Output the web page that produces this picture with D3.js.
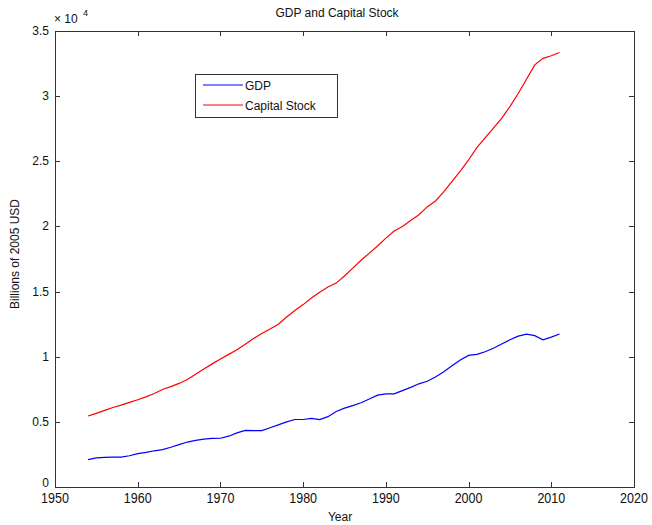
<!DOCTYPE html>
<html>
<head>
<meta charset="utf-8">
<script src="https://cdn.jsdelivr.net/npm/d3@7"></script>
<style>
  body { margin: 0; background: #fff; }
  svg { display: block; font-family: "Liberation Sans", Arial, sans-serif; }
</style>
</head>
<body>
<svg id="chart" width="652" height="525"></svg>
<script>
// Annual series, billions of 2005 USD
const years = d3.range(1954, 2012);
const gdp = [
  2100, 2230, 2280, 2290, 2290, 2400, 2560, 2660, 2780, 2870,
  3050, 3250, 3450, 3580, 3680, 3730, 3740, 3900, 4150, 4350,
  4330, 4330, 4550, 4770, 5000, 5180, 5180, 5270, 5180, 5400,
  5800, 6050, 6250, 6470, 6750, 7050, 7150, 7150, 7400, 7650,
  7920, 8120, 8450, 8850, 9300, 9750, 10100, 10180, 10380, 10650,
  10980, 11300, 11580, 11740, 11620, 11300, 11500, 11740
];
const capitalStock = [
  5450, 5650, 5880, 6100, 6280, 6500, 6700, 6920, 7180, 7480,
  7700, 7950, 8250, 8650, 9050, 9450, 9820, 10180, 10540, 10950,
  11400, 11780, 12120, 12500, 13050, 13550, 14000, 14500, 14950, 15350,
  15650, 16200, 16800, 17400, 17950, 18500, 19100, 19650, 20000, 20450,
  20900, 21500, 21950, 22650, 23450, 24250, 25100, 26050, 26800, 27550,
  28300, 29200, 30200, 31300, 32400, 32900, 33100, 33350
];
const xTicks = [1950, 1960, 1970, 1980, 1990, 2000, 2010, 2020];
const yTicks = [0, 5000, 10000, 15000, 20000, 25000, 30000, 35000];
const seriesNames = ["GDP", "Capital Stock"];
const seriesColors = ["#0000ff", "#ff0000"];

(function draw() {
  const svg = d3.select("#chart");
  const plotL = 55, plotR = 634, plotT = 31, plotB = 487;
  const axisColor = "#333";

  const x = d3.scaleLinear().domain([1950, 2020]).range([plotL, plotR]);
  const y = d3.scaleLinear().domain([0, 35000]).range([plotB, plotT]);

  // Axes box
  svg.append("rect")
    .attr("x", plotL + 0.5).attr("y", plotT + 0.5)
    .attr("width", plotR - plotL).attr("height", plotB - plotT)
    .attr("fill", "none").attr("stroke", axisColor).attr("stroke-width", 1);

  const tickLen = 5;
  // X ticks (inward, bottom and top)
  const gx = svg.append("g");
  xTicks.forEach(t => {
    const px = Math.round(x(t)) + 0.5;
    gx.append("line").attr("x1", px).attr("x2", px).attr("y1", plotB).attr("y2", plotB - tickLen)
      .attr("stroke", axisColor);
    gx.append("line").attr("x1", px).attr("x2", px).attr("y1", plotT).attr("y2", plotT + tickLen)
      .attr("stroke", axisColor);
    gx.append("text")
      .attr("transform", `translate(${x(t)},${plotB + 16}) scale(1,1.15)`)
      .attr("text-anchor", "middle")
      .attr("font-size", 12.5)
      .attr("fill", "#111")
      .text(t);
  });

  // Y ticks (inward, left and right)
  const gy = svg.append("g");
  yTicks.forEach(t => {
    const py = Math.round(y(t)) + 0.5;
    gy.append("line").attr("x1", plotL).attr("x2", plotL + tickLen).attr("y1", py).attr("y2", py)
      .attr("stroke", axisColor);
    gy.append("line").attr("x1", plotR).attr("x2", plotR - tickLen).attr("y1", py).attr("y2", py)
      .attr("stroke", axisColor);
    gy.append("text")
      .attr("x", plotL - 6).attr("y", y(t) + (t === 0 ? 0 : 4))
      .attr("text-anchor", "end")
      .attr("font-size", 12)
      .attr("fill", "#111")
      .text(d3.format("~g")(t / 10000));
  });

  // Exponent label
  svg.append("text").attr("x", plotL - 1).attr("y", 23).attr("font-size", 12).attr("fill", "#111")
    .text("\u00d7 10");
  svg.append("text").attr("x", plotL + 28).attr("y", 16).attr("font-size", 9).attr("fill", "#111").text("4");

  // Lines
  const line = d3.line().x((d, i) => x(years[i])).y(d => y(d));
  [gdp, capitalStock].forEach((series, k) => {
    svg.append("path")
      .datum(series)
      .attr("d", line)
      .attr("fill", "none")
      .attr("stroke", seriesColors[k])
      .attr("stroke-width", 1.2);
  });

  // Title and axis labels
  svg.append("text")
    .attr("x", 337).attr("y", 17)
    .attr("text-anchor", "middle")
    .attr("font-size", 12)
    .attr("fill", "#111")
    .text("GDP and Capital Stock");

  svg.append("text")
    .attr("x", 340).attr("y", 521)
    .attr("text-anchor", "middle")
    .attr("font-size", 12)
    .attr("fill", "#111")
    .text("Year");

  svg.append("text")
    .attr("transform", "translate(19,254) rotate(-90)")
    .attr("text-anchor", "middle")
    .attr("font-size", 12)
    .attr("fill", "#111")
    .text("Billions of 2005 USD");

  // Legend
  const lg = svg.append("g");
  lg.append("rect")
    .attr("x", 195.5).attr("y", 74.5).attr("width", 142).attr("height", 43)
    .attr("fill", "#fff").attr("stroke", axisColor);
  seriesNames.forEach((name, k) => {
    const ly = 85 + k * 20;
    lg.append("line").attr("x1", 203).attr("x2", 243).attr("y1", ly).attr("y2", ly)
      .attr("stroke", seriesColors[k]).attr("stroke-width", 1.2);
    lg.append("text").attr("x", 245).attr("y", ly + 4.5)
      .attr("font-size", 12).attr("fill", "#111").text(name);
  });
})();
</script>
</body>
</html>
